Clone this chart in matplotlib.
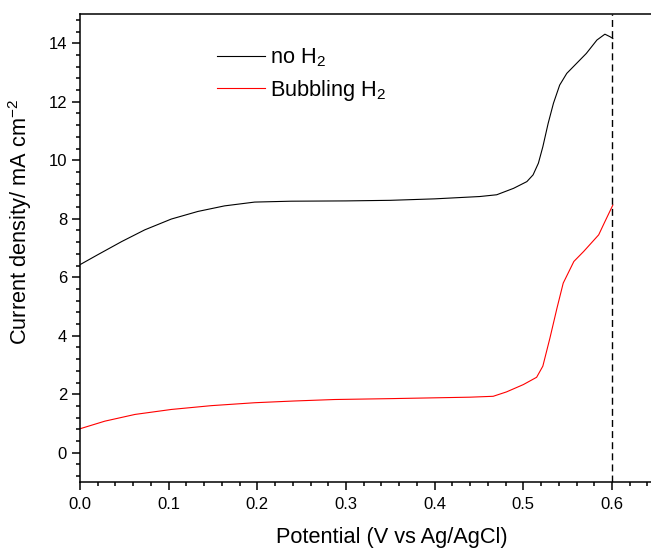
import matplotlib
matplotlib.use('Agg')
import matplotlib.pyplot as plt
from matplotlib.ticker import MultipleLocator

plt.rcParams['font.family'] = ['Liberation Sans', 'DejaVu Sans']
plt.rcParams['mathtext.fontset'] = 'custom'
plt.rcParams['mathtext.rm'] = 'Liberation Sans'
plt.rcParams['mathtext.it'] = 'Liberation Sans'

# potential (V vs Ag/AgCl) and current density (mA cm-2)
pot_no_h2 = [0.000, 0.020, 0.047, 0.073, 0.103, 0.133, 0.163, 0.197, 0.238, 0.300,
             0.350, 0.400, 0.451, 0.470, 0.489, 0.504, 0.511, 0.517, 0.522, 0.528,
             0.534, 0.541, 0.549, 0.560, 0.571, 0.583, 0.592, 0.598, 0.601]
cur_no_h2 = [6.43, 6.77, 7.22, 7.62, 7.99, 8.25, 8.44, 8.57, 8.60, 8.61,
             8.63, 8.68, 8.76, 8.82, 9.04, 9.27, 9.50, 9.90, 10.46, 11.26,
             11.95, 12.57, 12.97, 13.31, 13.65, 14.11, 14.31, 14.22, 14.16]

pot_h2 = [0.000, 0.028, 0.062, 0.103, 0.148, 0.197, 0.242, 0.287, 0.350, 0.440,
          0.466, 0.481, 0.500, 0.515, 0.522, 0.530, 0.538, 0.545, 0.557, 0.568,
          0.585, 0.592, 0.601]
cur_h2 = [0.82, 1.08, 1.31, 1.48, 1.61, 1.71, 1.77, 1.82, 1.85, 1.90,
          1.93, 2.08, 2.33, 2.58, 2.96, 3.92, 4.95, 5.80, 6.54, 6.88,
          7.45, 7.90, 8.47]

labels = ['no H$_2$', 'Bubbling H$_2$']
v_marker = 0.6

fig = plt.figure(figsize=(6.51, 5.54), dpi=100)
ax = fig.add_axes([80/651, 1 - 482/554, 571/651, 468/554])

ax.plot(pot_no_h2, cur_no_h2, color='black', lw=0.8, label=labels[0])
ax.plot(pot_h2, cur_h2, color='red', lw=0.8, label=labels[1])
ax.axvline(v_marker, color='black', lw=1.0, dashes=(5, 3))

ax.set_xlim(0, 0.644)
ax.set_ylim(-1, 15)
ax.xaxis.set_major_locator(MultipleLocator(0.1))
ax.xaxis.set_minor_locator(MultipleLocator(0.02))
ax.yaxis.set_major_locator(MultipleLocator(2))
ax.yaxis.set_minor_locator(MultipleLocator(0.4))
ax.xaxis.set_major_formatter(plt.FuncFormatter(lambda v, p: '%.1f' % v))

for s in ['left', 'bottom', 'top']:
    ax.spines[s].set_linewidth(1.1)
ax.spines['right'].set_visible(False)
ax.tick_params(which='major', direction='out', length=5.8, width=1.1, labelsize=12)
ax.tick_params(which='minor', direction='out', length=3, width=1.1)
ax.tick_params(axis='y', pad=3.5)
ax.tick_params(axis='x', pad=5)

ax.set_xlabel('Potential (V vs Ag/AgCl)', fontsize=15.7)
ax.set_ylabel('Current density/ mA cm$^{-2}$', fontsize=15.7)
ax.xaxis.set_label_coords(0.546, -0.096)
ax.yaxis.set_label_coords(-0.081, 0.556)

ax.legend(loc='upper left', bbox_to_anchor=(0.240, 0.93), frameon=False,
          fontsize=15.7, handlelength=2.2, handletextpad=0.23, labelspacing=0.4,
          borderaxespad=0, borderpad=0)

fig.savefig('out.png', dpi=100)
